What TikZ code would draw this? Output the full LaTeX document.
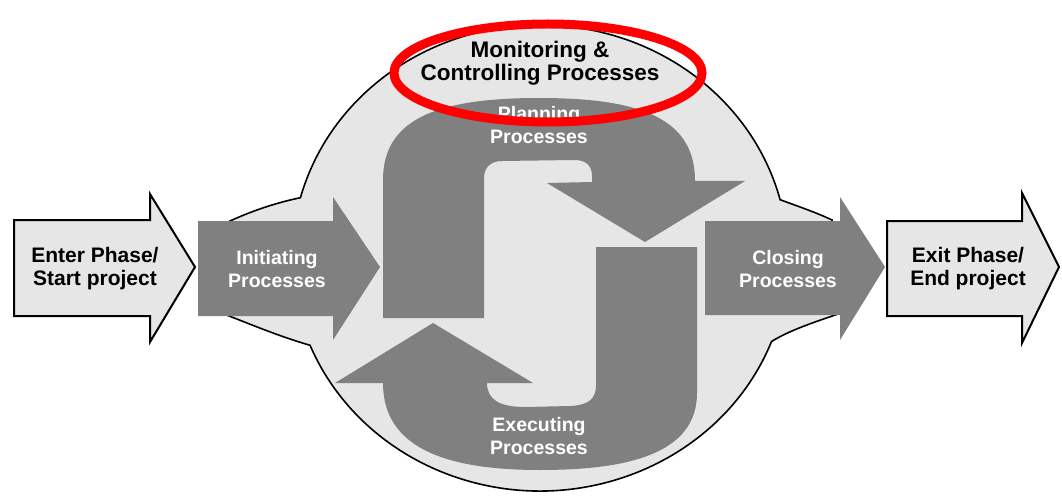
\documentclass[tikz,border=0pt]{standalone}
\usepackage{fontspec}
\setmainfont{Liberation Sans}
\definecolor{bglight}{RGB}{230,230,230}
\definecolor{darkgr}{RGB}{128,128,128}
\definecolor{hlred}{RGB}{255,0,0}
\begin{document}
\begin{tikzpicture}[x=1pt,y=-1pt,
  phasearrow/.style={fill=bglight,draw=black,line width=2pt,line join=miter},
  procarrow/.style={fill=darkgr},
  region/.style={fill=bglight,draw=black,line width=1.6pt},
  blacklabel/.style={font=\bfseries\fontsize{21}{23}\selectfont,align=center,text=black,inner sep=0pt},
  toplabel/.style={font=\bfseries\fontsize{22.5}{23}\selectfont,align=center,text=black,inner sep=0pt},
  whitelabel/.style={font=\bfseries\fontsize{19.5}{23}\selectfont,align=center,text=white,inner sep=0pt},
  highlight/.style={draw=hlred,line width=9pt}]
\useasboundingbox (0,0) rectangle (1062,497);
% light background region (circle with flares)
\path[region] (230,221) .. controls (252,211) and (275,203) .. ([shift={(540,258)}]195:248 and 233)
  arc[start angle=195,end angle=345.5,x radius=248,y radius=233]
  .. controls (797,206) and (815,212) .. (832,220)
  -- (838,314)
  .. controls (815,322) and (790,330) .. ([shift={(540,258)}]21:248 and 233)
  arc[start angle=21,end angle=158,x radius=248,y radius=233]
  .. controls (278,336) and (250,324) .. (224,314) -- cycle;
% Enter / Exit arrows
\draw[phasearrow] (14,220) -- (150,220) -- (150,194) -- (195,267) -- (150,342) -- (150,316) -- (14,316) -- cycle;
\draw[phasearrow] (887,221) -- (1022,221) -- (1022,193) -- (1059,267) -- (1022,343) -- (1022,316) -- (887,316) -- cycle;
% Initiating / Closing arrows
\fill[procarrow] (198,221) -- (333,221) -- (333,197) -- (380,267) -- (333,340) -- (333,316) -- (198,316) -- cycle;
\fill[procarrow] (705,221) -- (840,221) -- (840,197) -- (885,267) -- (840,340) -- (840,315) -- (705,315) -- cycle;
% Planning arrow
\fill[procarrow] (383,318) -- (383,180) .. controls (383,120) and (435,98) .. (539,98)
  .. controls (640,98) and (695,118) .. (695,181) -- (745,181) -- (645,242) -- (547,183) -- (592,182)
  -- (592,176) .. controls (592,165) and (585,160) .. (575,160) -- (502,161)
  .. controls (490,161) and (484,168) .. (484,178) -- (484,318) -- cycle;
% Executing arrow
\fill[procarrow] (596,247) -- (697,247) -- (697,393) .. controls (697,455) and (625,470) .. (540,470)
  .. controls (440,470) and (383,445) .. (383,383) -- (335,383) -- (433,323) -- (533,383) -- (487,383)
  .. controls (487,400) and (500,407) .. (525,407) -- (570,406)
  .. controls (590,405) and (596,398) .. (596,385) -- cycle;
% labels
\node[blacklabel] (enter) at (95,269) {Enter Phase/\\Start project};
\node[whitelabel] (init) at (277,269) {Initiating\\Processes};
\node[whitelabel] (close) at (788,269) {Closing\\Processes};
\node[blacklabel] (exit) at (968,269) {Exit Phase/\\End project};
\node[whitelabel] (plan) at (539,125) {Planning\\Processes};
\node[whitelabel] (exec) at (539,436) {Executing\\Processes};
\node[toplabel] (monitor) at (540,63) {Monitoring \&\\Controlling Processes};
% red highlight ellipse
\draw[highlight] (548,73) ellipse[x radius=154,y radius=49];
\end{tikzpicture}
\end{document}
